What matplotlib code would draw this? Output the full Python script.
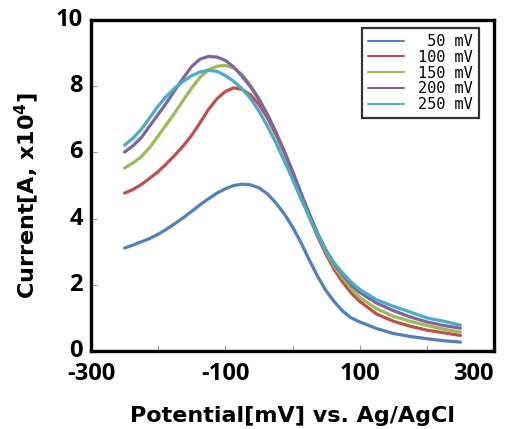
import matplotlib
matplotlib.use("Agg")
import matplotlib.pyplot as plt
import matplotlib.transforms as mtransforms

plt.rcParams['font.family'] = ['Open Sans', 'DejaVu Sans']
plt.rcParams['mathtext.fontset'] = 'custom'
plt.rcParams['mathtext.bf'] = 'DejaVu Sans:bold'
plt.rcParams['mathtext.rm'] = 'DejaVu Sans:bold'
plt.rcParams['mathtext.default'] = 'bf'

potential = [-250, -237.5, -225, -212.5, -200, -187.5, -175, -162.5, -150, -137.5,
             -125, -112.5, -100, -87.5, -75, -62.5, -50, -37.5, -25, -12.5,
             0, 12.5, 25, 37.5, 50, 62.5, 75, 87.5, 100,
             125, 150, 175, 200, 225, 250]

i_50 = [3.11, 3.20, 3.30, 3.40, 3.53, 3.68, 3.85, 4.03, 4.22, 4.42,
        4.60, 4.77, 4.90, 5.00, 5.04, 5.02, 4.93, 4.75, 4.48, 4.15,
        3.75, 3.28, 2.75, 2.25, 1.82, 1.48, 1.20, 1.00, 0.88,
        0.68, 0.53, 0.44, 0.37, 0.31, 0.27]
i_100 = [4.77, 4.88, 5.03, 5.22, 5.42, 5.66, 5.92, 6.20, 6.52, 6.90,
         7.30, 7.62, 7.84, 7.95, 7.90, 7.74, 7.45, 7.05, 6.55, 6.00,
         5.38, 4.72, 4.05, 3.45, 2.92, 2.45, 2.07, 1.75, 1.50,
         1.12, 0.90, 0.75, 0.63, 0.55, 0.47]
i_150 = [5.53, 5.68, 5.87, 6.15, 6.50, 6.85, 7.20, 7.58, 7.95, 8.27,
         8.50, 8.60, 8.63, 8.55, 8.35, 8.03, 7.63, 7.15, 6.62, 6.05,
         5.42, 4.77, 4.12, 3.52, 3.00, 2.55, 2.20, 1.88, 1.62,
         1.28, 1.05, 0.90, 0.77, 0.66, 0.57]
i_200 = [6.01, 6.20, 6.45, 6.80, 7.15, 7.50, 7.88, 8.25, 8.60, 8.82,
         8.90, 8.88, 8.78, 8.58, 8.30, 7.98, 7.60, 7.15, 6.62, 6.05,
         5.43, 4.78, 4.15, 3.55, 3.05, 2.62, 2.30, 2.00, 1.77,
         1.45, 1.22, 1.03, 0.88, 0.77, 0.69]
i_250 = [6.22, 6.43, 6.70, 7.05, 7.40, 7.70, 7.95, 8.15, 8.32, 8.43,
         8.48, 8.45, 8.32, 8.15, 7.92, 7.63, 7.25, 6.80, 6.30, 5.75,
         5.20, 4.60, 4.05, 3.50, 3.03, 2.65, 2.35, 2.08, 1.86,
         1.55, 1.35, 1.18, 1.00, 0.90, 0.78]

labels = [' 50 mV', '100 mV', '150 mV', '200 mV', '250 mV']
colors = ['#4F81BD', '#C0504D', '#9BBB59', '#8064A2', '#4BACC6']
series = [i_50, i_100, i_150, i_200, i_250]

xticks = [-300, -200, -100, 0, 100, 200, 300]
xticklabels = ['-300', '', '-100', '', '100', '', '300']
yticks = [0, 2, 4, 6, 8, 10]

fig = plt.figure(figsize=(5.07, 4.29), dpi=100)
ax = fig.add_axes([91/507, (429-351)/429, 403/507, 331/429])

for y, c, lab in zip(series, colors, labels):
    ax.plot(potential, y, color=c, lw=2.3, label=lab,
            solid_joinstyle='round', solid_capstyle='round')

ax.set_xlim(-300, 300)
ax.set_ylim(0, 10)
ax.set_xticks(xticks)
ax.set_xticklabels(xticklabels)
ax.set_yticks(yticks)

for s in ax.spines.values():
    s.set_linewidth(2.4)
    s.set_color('black')

ax.tick_params(direction='in', length=4, width=0.8, color='#999999',
               labelsize=17, top=False, right=False, pad=6)
ax.tick_params(axis='x', pad=8)
for t in ax.get_xticklabels() + ax.get_yticklabels():
    t.set_fontweight('bold')
ax.get_xticklabels()[-1].set_horizontalalignment('right')

up = mtransforms.ScaledTranslation(0, 3/100, fig.dpi_scale_trans)
for t in ax.get_yticklabels():
    t.set_transform(t.get_transform() + up)

ax.set_xlabel('Potential[mV] vs. Ag/AgCl', fontsize=16, fontweight='bold',
              family='DejaVu Sans')
ax.set_ylabel('Current[A, x10$^4$]', fontsize=16, fontweight='bold',
              family='DejaVu Sans')
ax.xaxis.set_label_coords(0.5, -0.165)
ax.yaxis.set_label_coords(-0.125, 0.47)

leg = ax.legend(loc='upper right', bbox_to_anchor=(0.963, 0.976),
                prop={'family': 'DejaVu Sans Mono', 'size': 11},
                frameon=True, fancybox=False, edgecolor='black',
                handlelength=2.4, handletextpad=0.9, labelspacing=0.05,
                borderpad=0.4, borderaxespad=0)
leg.get_frame().set_linewidth(1.6)
for line in leg.get_lines():
    line.set_linewidth(1.5)

fig.savefig('out.png', dpi=100)
